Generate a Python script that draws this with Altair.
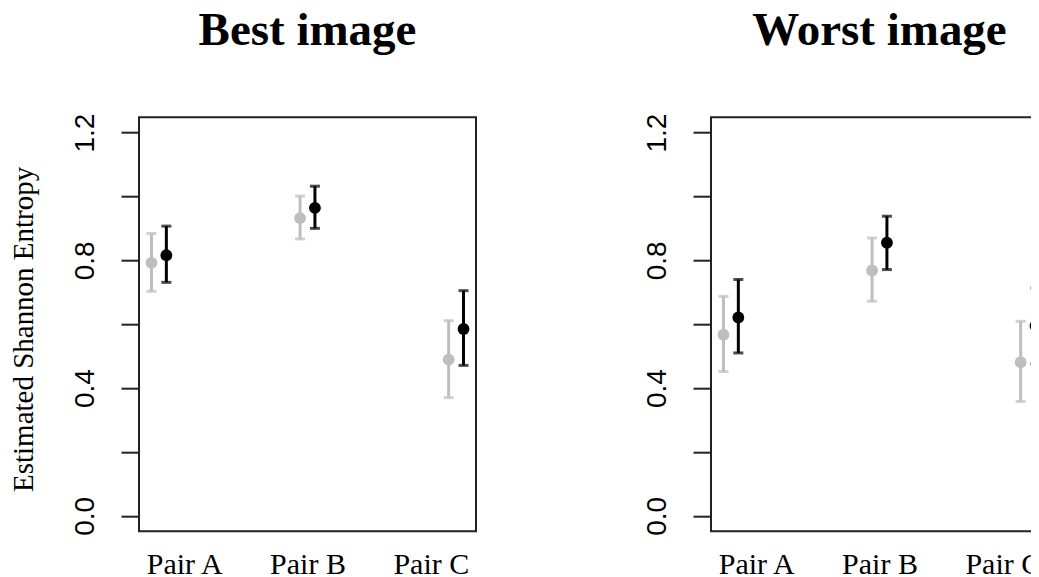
import json
import altair as alt
import pandas as pd

# ---- data ----
pairs = ["Pair A", "Pair B", "Pair C"]
series = ["Series 1", "Series 2"]          # grey, black
series_colors = ["#BEBEBE", "#000000"]

best_s1_mean = [0.792, 0.932, 0.489]
best_s1_low = [0.703, 0.867, 0.370]
best_s1_high = [0.884, 1.001, 0.611]
best_s2_mean = [0.816, 0.964, 0.585]
best_s2_low = [0.731, 0.900, 0.471]
best_s2_high = [0.907, 1.032, 0.705]

worst_s1_mean = [0.567, 0.768, 0.481]
worst_s1_low = [0.452, 0.672, 0.358]
worst_s1_high = [0.687, 0.870, 0.609]
worst_s2_mean = [0.621, 0.855, 0.595]
worst_s2_low = [0.510, 0.771, 0.476]
worst_s2_high = [0.740, 0.938, 0.713]

x_label_positions = [1.17, 2.0, 2.83]
y_tick_values = [0.0, 0.2, 0.4, 0.6, 0.8, 1.0, 1.2]
y_labelled = [0.0, 0.4, 0.8, 1.2]


def make_frame(s1, s2):
    rows = []
    for name, (m, lo, hi) in zip(series, [s1, s2]):
        for i, p in enumerate(pairs):
            rows.append({"pair": p, "series": name, "mean": m[i], "low": lo[i], "high": hi[i]})
    return pd.DataFrame(rows)


best_df = make_frame((best_s1_mean, best_s1_low, best_s1_high),
                     (best_s2_mean, best_s2_low, best_s2_high))
worst_df = make_frame((worst_s1_mean, worst_s1_low, worst_s1_high),
                      (worst_s2_mean, worst_s2_low, worst_s2_high))

pairs_js = json.dumps(pairs)
xpos_expr = (f"indexof({pairs_js}, datum.pair) + 1 + "
             f"(datum.series == '{series[0]}' ? -0.05 : 0.05)")

label_cond = " : ".join(
    f"datum.value < {x_label_positions[i] + 0.4} ? '{pairs[i]}'" for i in range(len(pairs) - 1)
) + f" : '{pairs[-1]}'"
y_label_expr = (f"indexof({json.dumps([round(v * 10) for v in y_labelled])}, round(datum.value * 10)) >= 0 "
                f"? format(datum.value, '.1f') : ''")

W, H = 337, 414


def panel(df, title, ytitle):
    x_enc = alt.X(
        "xpos:Q",
        scale=alt.Scale(domain=[0.866, 3.134], nice=False, zero=False),
        axis=alt.Axis(values=x_label_positions, labelExpr=label_cond, ticks=False, tickSize=0,
                      domain=False, grid=False, labelFont="Liberation Serif", labelFontSize=30,
                      labelColor="black", labelPadding=42.7, labelBaseline="alphabetic",
                      labelAngle=0, labelFlush=False, labelOverlap=False, title=None),
    )
    yaxis_kwargs = dict(values=y_tick_values, labelExpr=y_label_expr, tickSize=18, tickWidth=2,
                        tickColor="#222", domain=False, grid=False, labelFont="Liberation Sans",
                        labelFontSize=28, labelColor="black", labelAngle=270, labelAlign="center",
                        labelBaseline="alphabetic", labelPadding=27.3, labelFlush=False,
                        labelOverlap=False)
    if ytitle:
        yaxis_kwargs.update(title=ytitle, titleFont="Liberation Serif", titleFontSize=29,
                            titleFontWeight="normal", titleColor="black", titleAngle=270,
                            titleBaseline="alphabetic", titleAlign="center",
                            titleX=-106.2, titleY=211.7)
    else:
        yaxis_kwargs.update(title=None)
    y_scale = alt.Scale(domain=[-0.048, 1.248], nice=False, zero=False)
    color = alt.Color("series:N", scale=alt.Scale(domain=series, range=series_colors), legend=None)

    base = alt.Chart(df).transform_calculate(xpos=xpos_expr)
    bars = base.mark_rule(strokeWidth=3).encode(
        x=x_enc, y=alt.Y("low:Q", scale=y_scale, axis=alt.Axis(**yaxis_kwargs)), y2="high:Q", color=color)
    cap_lo = base.mark_tick(orient="horizontal", size=10, thickness=3).encode(
        x=x_enc, y=alt.Y("low:Q", scale=y_scale), color=color)
    cap_hi = base.mark_tick(orient="horizontal", size=10, thickness=3).encode(
        x=x_enc, y=alt.Y("high:Q", scale=y_scale), color=color)
    pts = base.mark_circle(size=140, opacity=1).encode(
        x=x_enc, y=alt.Y("mean:Q", scale=y_scale), color=color)

    return alt.layer(bars, cap_lo, cap_hi, pts).properties(
        width=W, height=H,
        title=alt.TitleParams(title, font="Liberation Serif", fontSize=47, fontWeight="bold",
                              color="black", anchor="middle", baseline="alphabetic", offset=21.2),
    )


left = panel(best_df, "Best image", "Estimated Shannon Entropy")
right = panel(worst_df, "Worst image", None)

chart = alt.hconcat(left, right, spacing=165).properties(
    padding={"left": 0, "top": -2.8, "right": -18, "bottom": 0},
    background="white",
).configure_view(stroke="#222", strokeWidth=2)

chart.save("out.html", embed_options={"renderer": "svg", "actions": False})
